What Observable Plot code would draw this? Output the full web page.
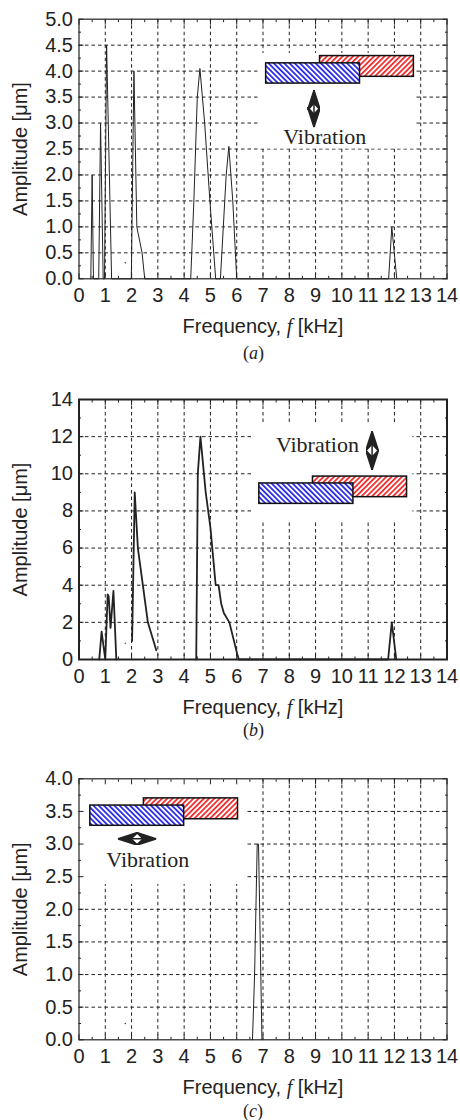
<!DOCTYPE html>
<html><head><meta charset="utf-8">
<script src="https://cdn.jsdelivr.net/npm/d3@7"></script>
<script src="https://cdn.jsdelivr.net/npm/@observablehq/plot@0.6"></script>
<style>
html,body{margin:0;padding:0;background:#fff;width:460px;overflow:hidden}
svg{display:block}
.cap{font-family:"Liberation Serif",serif;font-size:18px;color:#222;padding-left:243px;box-sizing:border-box}
</style></head><body><div id="root"></div>
<script>
const xTicks = [0,1,2,3,4,5,6,7,8,9,10,11,12,13,14];
const xMinor = [0.5,1.5,2.5,3.5,4.5,5.5,6.5,7.5,8.5,9.5,10.5,11.5,12.5,13.5];

const aX = [0.45,0.5,0.55,0.75,0.82,0.92,0.97,1.05,1.24,1.99,2.09,2.2,2.4,2.5,4.25,4.37,4.5,4.6,4.78,4.98,5.2,5.38,5.6,5.7,5.85,6.0,11.78,11.9,12.09];
const aY = [0,2,0,0,3,0,0,4.5,0,0,4,1,0.5,0,0,1.5,3.5,4.05,3,1.5,0,0,2,2.55,1.5,0,0,1,0];
const bX = [0.77,0.86,1.0,1.09,1.13,1.2,1.31,1.42];
const bY = [0,1.5,0,3.5,3.4,1.7,3.7,0];
const bX2 = [2.02,2.12,2.24,2.62,2.94];
const bY2 = [1,9,6,2,0.5];
const bX3 = [4.46,4.52,4.62,4.82,5.0,5.2,5.31,5.41,5.51,5.72,6.02,6.08,11.76,11.9,12.07];
const bY3 = [0,10,12,9,7.1,4,4,3,2.5,2,0.3,0,0,2,0];
const cX = [6.6,6.68,6.78,6.83,6.96];
const cY = [0,1,3,3,0];

const yTicksA = [0,0.5,1,1.5,2,2.5,3,3.5,4,4.5,5];
const yMinorA = [0.25,0.75,1.25,1.75,2.25,2.75,3.25,3.75,4.25,4.75];
const yTicksB = [0,2,4,6,8,10,12,14];
const yMinorB = [1,3,5,7,9,11,13];
const yTicksC = [0,0.5,1,1.5,2,2.5,3,3.5,4];
const yMinorC = [0.25,0.75,1.25,1.75,2.25,2.75,3.25,3.75];

const yLabel = "Amplitude [μm]";
const vibration = ["Vibration"];
const captions = ["a","b","c"];

function hatchDefs(){
  const ns="http://www.w3.org/2000/svg";
  const defs=document.createElementNS(ns,"defs");
  [["hatchBlue","#1f1fe6",-45],["hatchRed","#f02222",45]].forEach(([id,c,a])=>{
    const p=document.createElementNS(ns,"pattern");
    p.setAttribute("id",id);p.setAttribute("patternUnits","userSpaceOnUse");
    p.setAttribute("width",3.7);p.setAttribute("height",3.7);
    p.setAttribute("patternTransform",`rotate(${a})`);
    const bg=document.createElementNS(ns,"rect");
    bg.setAttribute("width",3.7);bg.setAttribute("height",3.7);bg.setAttribute("fill","#fff");
    const r=document.createElementNS(ns,"rect");
    r.setAttribute("width",1.7);r.setAttribute("height",3.7);r.setAttribute("fill",c);
    p.append(bg,r);defs.append(p);
  });
  return defs;
}
function headMarker(color,ctx){
  const ns="http://www.w3.org/2000/svg";
  const m=ctx.document.createElementNS(ns,"marker");
  m.setAttribute("viewBox","0 -6.5 20 13");
  m.setAttribute("markerWidth",20);m.setAttribute("markerHeight",13);
  m.setAttribute("markerUnits","userSpaceOnUse");
  m.setAttribute("refX",20);m.setAttribute("refY",0);
  m.setAttribute("orient","auto-start-reverse");
  const p=ctx.document.createElementNS(ns,"path");
  p.setAttribute("d","M20,0L0,-6.5L7,0L0,6.5Z");
  p.setAttribute("fill","#222");
  m.append(p);
  return m;
}

function panel(o){
  const svg=Plot.plot({
    width:460,height:o.height,marginLeft:78.5,marginRight:13.5,marginTop:o.marginTop,marginBottom:o.marginBottom,
    x:{domain:[0,14]},y:{domain:o.yDomain},
    style:{fontFamily:"'Liberation Sans',sans-serif",color:"#222",background:"#fff",overflow:"visible"},
    marks:[
      Plot.ruleX(xTicks.slice(1,-1),{stroke:"#222",strokeWidth:o.gridW,strokeDasharray:"3.5 3"}),
      Plot.ruleY(o.yTicks.slice(1,-1),{stroke:"#222",strokeWidth:o.gridW,strokeDasharray:"3.5 3"}),
      Plot.rect([0],{x1:[o.blank[0]],x2:[o.blank[1]],y1:[o.blank[2]],y2:[o.blank[3]],fill:"#fff"}),
      ...o.lines.map(([lx,ly])=>Plot.line(ly,{x:lx,y:ly,stroke:"#222",strokeWidth:o.lineW})),
      Plot.dot([0],{x:[1.76],y:[o.speck],r:0.7,fill:"#222"}),
      Plot.rect([0],{x1:[o.red[0]],x2:[o.red[1]],y1:[o.red[2]],y2:[o.red[3]],fill:"url(#hatchRed)",stroke:"#111",strokeWidth:1.5}),
      Plot.rect([0],{x1:[o.blue[0]],x2:[o.blue[1]],y1:[o.blue[2]],y2:[o.blue[3]],fill:"url(#hatchBlue)",stroke:"#111",strokeWidth:1.5}),
      Plot.link([0],{x1:[o.arrow[0]],y1:[o.arrow[1]],x2:[o.arrow[2]],y2:[o.arrow[3]],stroke:"#222",strokeWidth:1.5,markerStart:headMarker,markerEnd:headMarker}),
      Plot.text(vibration,{x:[o.text[0]],y:[o.text[1]],fontFamily:"'Liberation Serif',serif",fontSize:22,fill:"#222"}),
      Plot.axisX({anchor:"bottom",ticks:xTicks,tickSize:-5,text:null,label:null,stroke:"#222"}),
      Plot.axisX({anchor:"top",ticks:xTicks,tickSize:-5,text:null,label:null,stroke:"#222"}),
      Plot.axisX({anchor:"bottom",ticks:xMinor,tickSize:-2.5,text:null,label:null,stroke:"#222"}),
      Plot.axisX({anchor:"top",ticks:xMinor,tickSize:-2.5,text:null,label:null,stroke:"#222"}),
      Plot.axisY({anchor:"left",ticks:o.yTicks,tickSize:-5,text:null,label:null,stroke:"#222"}),
      Plot.axisY({anchor:"right",ticks:o.yTicks,tickSize:-5,text:null,label:null,stroke:"#222"}),
      Plot.axisY({anchor:"left",ticks:o.yMinor,tickSize:-2.5,text:null,label:null,stroke:"#222"}),
      Plot.axisY({anchor:"right",ticks:o.yMinor,tickSize:-2.5,text:null,label:null,stroke:"#222"}),
      Plot.frame({stroke:"#222",strokeWidth:o.frameW}),
      Plot.axisX({anchor:"bottom",ticks:xTicks,tickSize:0,tickPadding:9,tickFormat:d=>String(d),fontSize:20,fill:"#222",
        label:"Frequency, f [kHz]",labelAnchor:"center",labelOffset:54,labelArrow:"none"}),
      Plot.axisY({anchor:"left",ticks:o.yTicks,tickSize:0,tickPadding:6,tickFormat:o.fmt,fontSize:20,fill:"#222",
        label:yLabel,labelAnchor:"center",labelOffset:66,labelArrow:"none"})
    ]
  });
  svg.prepend(hatchDefs());
  return svg;
}

const cfgs=[
 {height:340,marginTop:18.7,marginBottom:61.7,yDomain:[0,5],yTicks:yTicksA,yMinor:yMinorA,fmt:d3.format(".1f"),
  gridW:1,lineW:1,frameW:1.2,speck:0.31,lines:[[aX,aY]],
  blank:[6.9,12.8,2.5,4.34],red:[9.17,12.74,3.89,4.29],blue:[7.12,10.69,3.76,4.15],arrow:[8.94,3.63,8.94,2.92],text:[9.35,2.74]},
 {height:340,marginTop:29,marginBottom:51,yDomain:[0,14],yTicks:yTicksB,yMinor:yMinorB,fmt:d3.format("d"),
  gridW:1,lineW:1.8,frameW:2,speck:0.88,lines:[[bX,bY],[bX2,bY2],[bX3,bY3]],
  blank:[6.65,12.7,7.4,12.7],red:[8.9,12.48,8.74,9.85],blue:[6.86,10.44,8.38,9.48],arrow:[11.15,12.3,11.15,10.2],text:[9.07,11.57]},
 {height:340,marginTop:28.3,marginBottom:50.7,yDomain:[0,4],yTicks:yTicksC,yMinor:yMinorC,fmt:d3.format(".1f"),
  gridW:1,lineW:1,frameW:1.2,speck:0.25,lines:[[cX,cY]],
  blank:[0,6.33,2.38,4],red:[2.47,6.05,3.38,3.70],blue:[0.43,4.0,3.28,3.59],arrow:[1.48,3.08,2.94,3.08],text:[2.62,2.76]}
];
const capLine=[26,40,42];
const capHeight=[30,40,30];
const root=document.getElementById("root");
cfgs.forEach((c,i)=>{
  const svg=panel(c);
  root.append(svg);
  const lab=svg.querySelector('[aria-label="x-axis label"] text');
  if(lab){
    lab.textContent="";
    const ns="http://www.w3.org/2000/svg";
    const t=(s,it)=>{const e=document.createElementNS(ns,"tspan");e.textContent=s;if(it){e.setAttribute("font-family","'Liberation Serif',serif");e.setAttribute("font-style","italic");}lab.append(e);};
    t("Frequency, ");t("f",true);t(" [kHz]");
  }
  const cap=document.createElement("div");cap.className="cap";
  cap.style.height=capHeight[i]+"px";
  cap.style.lineHeight=capLine[i]+"px";
  cap.innerHTML=`(<i>${captions[i]}</i>)`;
  root.append(cap);
});
</script></body></html>
